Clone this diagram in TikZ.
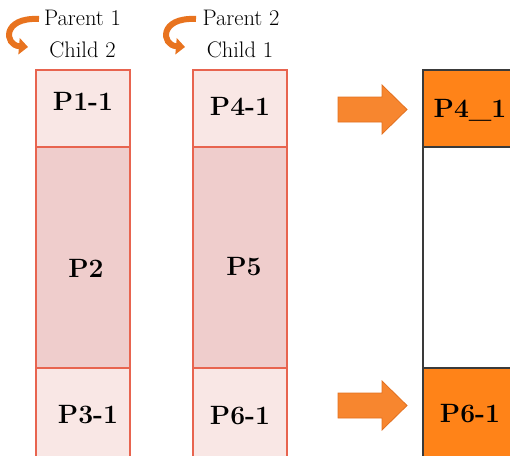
\documentclass[tikz,border=0pt]{standalone}
\usepackage{fontspec}
\usetikzlibrary{arrows.meta}
\definecolor{pinkA}{HTML}{F9E7E5}
\definecolor{pinkB}{HTML}{EFCDCC}
\definecolor{redline}{HTML}{E8644F}
\definecolor{orangeF}{HTML}{FF8318}
\definecolor{arrowF}{HTML}{F7862F}
\definecolor{arrowL}{HTML}{E2701F}
\definecolor{curveC}{HTML}{E8731F}
\definecolor{darkline}{HTML}{3A3A3A}
\begin{document}
\begin{tikzpicture}[x=1pt,y=-1pt,
  cell/.style={draw=redline, line width=1.3pt, anchor=north west, minimum width=94pt, inner sep=0pt, outer sep=0pt},
  rcell/.style={draw=darkline, line width=1.3pt, anchor=north west, minimum width=100pt, inner sep=0pt, outer sep=0pt},
  lbl/.style={anchor=base, inner sep=0pt, font=\fontsize{26.5}{30}\selectfont\bfseries},
  small/.style={anchor=base, inner sep=0pt, font=\fontsize{22.5}{26}\selectfont},
  curvearrow/.style={draw=curveC, line width=6pt, -{Triangle[length=9pt,width=16pt]}},
  blockarrow/.style={fill=arrowF, draw=arrowL, line width=0.8pt, line join=miter}
]
\useasboundingbox (0,0) rectangle (510,455);

% column 1
\node[cell, fill=pinkA, minimum height=77pt] (a1) at (36,70) {};
\node[cell, fill=pinkB, minimum height=221pt] (a2) at (36,147) {};
\node[cell, fill=pinkA, minimum height=92pt] (a3) at (36,368) {};
% column 2
\node[cell, fill=pinkA, minimum height=77pt] (b1) at (193,70) {};
\node[cell, fill=pinkB, minimum height=221pt] (b2) at (193,147) {};
\node[cell, fill=pinkA, minimum height=92pt] (b3) at (193,368) {};
% right column
\node[rcell, fill=orangeF, minimum height=77pt] (c1) at (423,70) {};
\node[rcell, fill=white, minimum height=221pt] (c2) at (423,147) {};
\node[rcell, fill=orangeF, minimum height=92pt] (c3) at (423,368) {};

% labels
\node[lbl] (ta1) at (83,110) {P1-1};
\node[lbl] (ta2) at (86,277) {P2};
\node[lbl] (ta3) at (88,423) {P3-1};
\node[lbl] (tb1) at (240,115) {P4-1};
\node[lbl] (tb2) at (244,275) {P5};
\node[lbl] (tb3) at (240,424) {P6-1};
\node[lbl] (tc1) at (470,117) {P4\_1};
\node[lbl] (tc3) at (470,422) {P6-1};

% top texts
\node[small] (p1) at (82.5,25) {Parent 1};
\node[small] (ch2) at (82.5,57) {Child 2};
\node[small] (p2) at (241,25) {Parent 2};
\node[small] (ch1) at (240,57) {Child 1};

% curved arrows
\draw[curvearrow] (39,19) .. controls (2,17) and (4,45) .. (28,47);
\draw[curvearrow] (196,19) .. controls (159,17) and (161,45) .. (185,47);

% block arrows
\draw[blockarrow] (338,97) -- (382,97) -- (382,85) -- (407,109.5) -- (382,134) -- (382,122) -- (338,122) -- cycle;
\draw[blockarrow] (338,393) -- (382,393) -- (382,381) -- (407,405.5) -- (382,430) -- (382,418) -- (338,418) -- cycle;
\end{tikzpicture}
\end{document}
